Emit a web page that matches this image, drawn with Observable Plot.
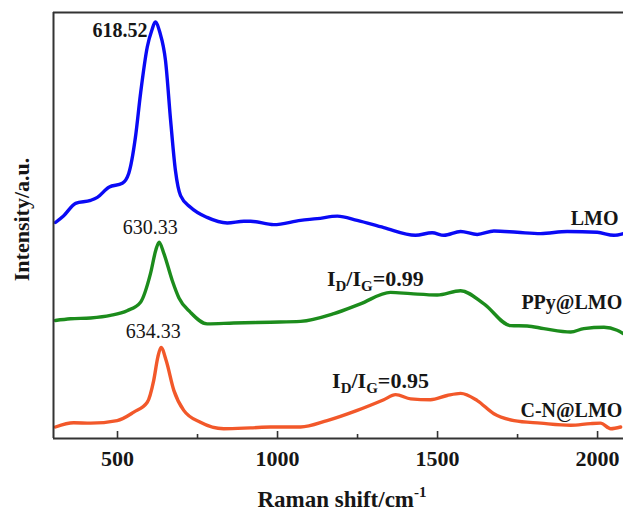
<!DOCTYPE html>
<html><head><meta charset="utf-8">
<script src="https://cdn.jsdelivr.net/npm/d3@7"></script>
<script src="https://cdn.jsdelivr.net/npm/@observablehq/plot@0.6"></script>
<style>
html,body{margin:0;padding:0;background:#fff;}
svg text{font-family:"Liberation Serif","Times New Roman",Times,serif;}
</style></head><body><div id="chart"></div>
<script>
// Raman shift (cm-1) and intensity (a.u., stacked with offsets as in figure)
const lmoShift = [306,332,369,416,437,473,515,535,556,572,593,608,618,632,650,666,681,697,728,780,843,895,916,988,1072,1124,1187,1249,1332,1431,1483,1520,1572,1624,1676,1749,1822,1905,1999,2051,2081];
const lmoIntensity = [50.7,52.3,55.2,55.9,56.6,59.0,59.9,62.2,70.7,81.0,91.9,96.0,97.8,95.4,88.7,74.6,62.9,57.0,54.3,51.9,50.6,51.0,51.0,50.2,51.2,51.6,52.2,51.2,49.5,47.7,48.3,47.7,48.6,47.9,48.7,48.4,48.1,48.6,48.4,47.7,48.1];

const ppyShift = [306,353,416,478,530,572,603,620,630,645,671,692,728,780,863,978,1072,1176,1259,1353,1416,1499,1572,1645,1728,1780,1832,1916,1957,2020,2061,2081];
const ppyIntensity = [27.7,28.1,28.3,28.9,30.0,32.0,38.7,44.3,46.1,43.4,37.1,33.0,29.6,26.9,27.1,27.3,27.5,29.3,31.6,34.3,34.0,33.7,34.7,31.6,26.5,26.4,25.8,25.0,25.8,26.1,25.4,24.6];

const cnShift = [306,363,416,499,551,593,613,626,636,652,676,707,759,832,916,978,1072,1155,1249,1332,1369,1416,1478,1530,1572,1624,1676,1739,1822,1916,1978,2009,2041,2072];
const cnIntensity = [2.7,3.7,3.6,4.2,6.2,8.5,13.6,19.1,21.4,18.3,11.3,6.6,3.8,2.3,2.5,2.7,2.7,4.2,6.6,9.1,10.3,9.3,9.1,10.1,10.6,8.9,5.8,4.2,3.6,3.1,3.5,3.6,2.3,2.7];

const sampleNames = ["LMO", "PPy@LMO", "C-N@LMO"];
const sampleColors = ["#0a0af5", "#1c8c1c", "#f2582a"];

const xMajorTicks = [500, 1000, 1500, 2000];
const xMinorTicks = [750, 1250, 1750];

// peak labels (x, intensity positions)
const boldPeakLabels = [{text: "618.52", x: 594, y: 95.8}];
const peakLabels = [
  {text: "630.33", x: 602, y: 49.5},
  {text: "634.33", x: 612, y: 25.1}
];
const seriesLabels = [
  {text: "LMO", x: 1916, y: 51.6},
  {text: "PPy@LMO", x: 1762, y: 31.9},
  {text: "C-N@LMO", x: 1759, y: 6.6}
];
const ratioLabels = [
  {value: "0.99", x: 1156, y: 37.6},
  {value: "0.95", x: 1172, y: 13.6}
];

const rows = [];
[[lmoShift, lmoIntensity], [ppyShift, ppyIntensity], [cnShift, cnIntensity]].forEach(([xs, ys], i) => {
  xs.forEach((x, j) => rows.push({sample: sampleNames[i], shift: x, intensity: ys[j]}));
});

const serif = "Liberation Serif";
const ink = "#161616";

const chart = Plot.plot({
  width: 623,
  height: 515,
  marginLeft: 53,
  marginRight: 0,
  marginTop: 12,
  marginBottom: 77,
  style: {fontFamily: serif, background: "#fff", color: ink, overflow: "visible"},
  x: {domain: [300, 2081]},
  y: {domain: [0, 100], axis: null},
  color: {domain: sampleNames, range: sampleColors},
  marks: [
    Plot.line(rows, {x: "shift", y: "intensity", z: "sample", stroke: "sample", strokeWidth: 3.4, curve: "monotone-x", strokeLinejoin: "round"}),
    Plot.ruleX([300], {stroke: "#333", strokeWidth: 2}),
    Plot.ruleY([0, 100], {stroke: "#333", strokeWidth: 2}),
    Plot.tickX(xMajorTicks, {x: d => d, insetTop: 419, stroke: "#333", strokeWidth: 1.6}),
    Plot.tickX(xMinorTicks, {x: d => d, insetTop: 422, stroke: "#333", strokeWidth: 1.6}),
    Plot.axisX(xMajorTicks, {tickSize: 0, tickPadding: 12, tickFormat: d3.format("d"), fontSize: 22, fontWeight: "bold", fontFamily: serif, label: null, fill: ink}),
    Plot.text(["Intensity/a.u."], {frameAnchor: "left", textAnchor: "middle", rotate: -90, dx: -32, dy: -6, fontSize: 22, fontWeight: "bold", fontFamily: serif, fill: ink}),
    Plot.text(boldPeakLabels, {x: "x", y: "y", text: "text", textAnchor: "end", fontSize: 20, fontWeight: "bold", fontFamily: serif, fill: ink}),
    Plot.text(peakLabels, {x: "x", y: "y", text: "text", textAnchor: "middle", fontSize: 20, fontFamily: serif, fill: ink}),
    Plot.text(seriesLabels, {x: "x", y: "y", text: "text", textAnchor: "start", fontSize: 20, fontWeight: "bold", fontFamily: serif, fill: ink})
  ]
});

document.getElementById("chart").appendChild(chart);

// Texts needing sub/superscripts, placed through the plot's scales
const svg = d3.select(chart);
const sx = chart.scale("x"), sy = chart.scale("y");
for (const r of ratioLabels) {
  const t = svg.append("text")
    .attr("x", sx.apply(r.x)).attr("y", sy.apply(r.y)).attr("dy", "0.35em")
    .attr("text-anchor", "start")
    .attr("font-family", serif).attr("font-weight", "bold").attr("font-size", 22).attr("fill", ink);
  t.append("tspan").text("I");
  t.append("tspan").attr("font-size", 15).attr("dy", 5).text("D");
  t.append("tspan").attr("dy", -5).text("/I");
  t.append("tspan").attr("font-size", 15).attr("dy", 5).text("G");
  t.append("tspan").attr("dy", -5).text("=" + r.value);
}
const [r0, r1] = sx.range;
const xl = svg.append("text")
  .attr("x", (r0 + r1) / 2 + 4).attr("y", 507).attr("text-anchor", "middle")
  .attr("font-family", serif).attr("font-weight", "bold").attr("font-size", 23).attr("fill", ink);
xl.append("tspan").text("Raman shift/cm");
xl.append("tspan").attr("font-size", 15).attr("dy", -10).text("-1");
</script>
</body></html>
